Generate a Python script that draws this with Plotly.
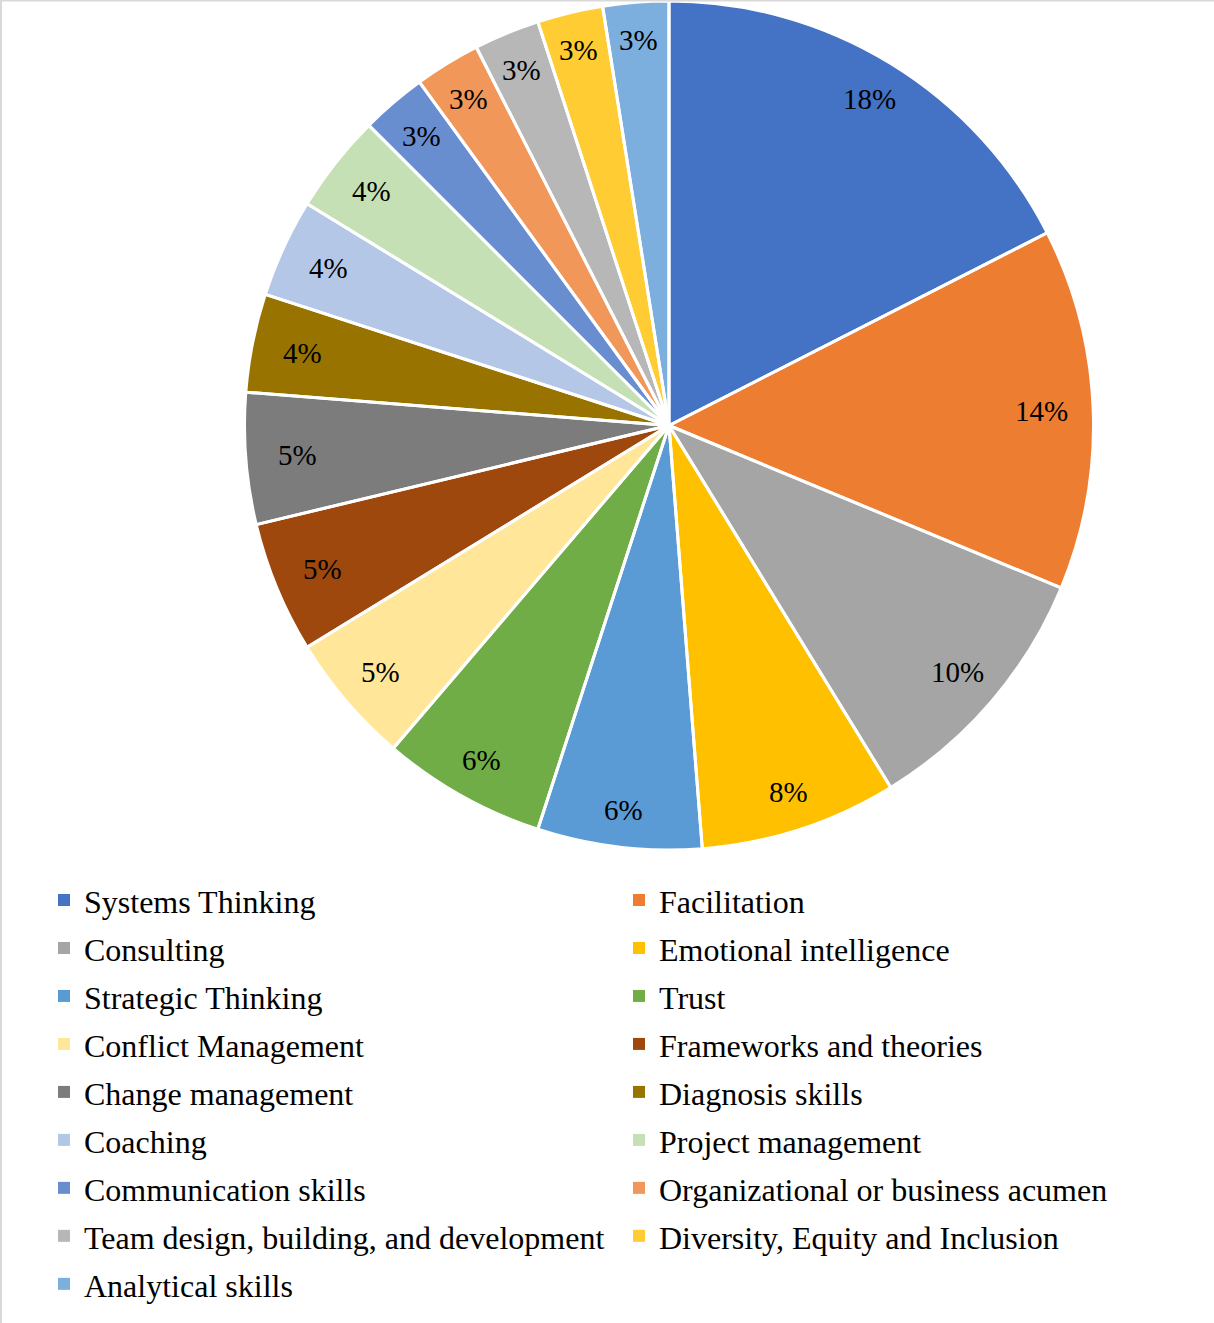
import math
import plotly.graph_objects as go

# Skill areas and number of mentions
skills = [
    "Systems Thinking", "Facilitation", "Consulting", "Emotional intelligence",
    "Strategic Thinking", "Trust", "Conflict Management", "Frameworks and theories",
    "Change management", "Diagnosis skills", "Coaching", "Project management",
    "Communication skills", "Organizational or business acumen",
    "Team design, building, and development", "Diversity, Equity and Inclusion",
    "Analytical skills",
]
mentions = [14, 11, 8, 6, 5, 5, 4, 4, 4, 3, 3, 3, 2, 2, 2, 2, 2]

colors = [
    "#4472C4", "#ED7D31", "#A5A5A5", "#FFC000", "#5B9BD5", "#70AD47",
    "#FFE699", "#9E480E", "#7C7C7C", "#997300", "#B4C7E7", "#C5E0B4",
    "#698ED0", "#F1975A", "#B7B7B7", "#FFCD33", "#7CAFDD",
]

W, H = 1214, 1323
FONT = "Liberation Serif, Times New Roman, serif"

# pie placement in pixels
cx, cy, R = 669.0, 425.5, 424.5
domain = dict(x=[(cx - R) / W, (cx + R) / W], y=[1 - (cy + R) / H, 1 - (cy - R) / H])

# legend rows use a taller line box than the text itself
legend_names = [f'<span style="font-size:32px">{s}</span>' for s in skills]

fig = go.Figure()

# filled slices (no outline, so legend swatches keep their full size)
fig.add_trace(go.Pie(
    labels=legend_names,
    values=mentions,
    sort=False,
    direction="clockwise",
    rotation=0,
    marker=dict(colors=colors, line=dict(width=0)),
    textinfo="none",
    hoverinfo="label+value+percent",
    domain=domain,
))

# white separators drawn on top of the slices
fig.add_trace(go.Pie(
    labels=legend_names,
    values=mentions,
    sort=False,
    direction="clockwise",
    rotation=0,
    marker=dict(colors=["rgba(0,0,0,0)"] * len(mentions), line=dict(color="white", width=3)),
    textinfo="none",
    hoverinfo="skip",
    showlegend=False,
    domain=domain,
))

# percentage labels near the outer rim of each slice
total = sum(mentions)
annotations = []
cum = 0
for v in mentions:
    mid = (cum + v / 2) / total * 2 * math.pi
    cum += v
    r = 380 + 7 * math.cos(2 * mid)
    px = cx + r * math.sin(mid)
    py = cy - r * math.cos(mid)
    pct = (200 * v + total) // (2 * total)  # rounded half up
    annotations.append(dict(
        x=px / W, y=1 - py / H, xref="paper", yref="paper",
        text=f"{pct}%", showarrow=False, xanchor="center", yanchor="middle",
        font=dict(family=FONT, size=29, color="black"),
    ))

fig.update_layout(
    width=W, height=H,
    margin=dict(l=0, r=0, t=0, b=0),
    paper_bgcolor="white",
    plot_bgcolor="white",
    annotations=annotations,
    showlegend=True,
    legend=dict(
        orientation="h",
        x=44 / W, xanchor="left",
        y=1 - 871 / H, yanchor="top",
        entrywidth=530, entrywidthmode="pixels",
        itemwidth=30,
        font=dict(family=FONT, size=34.6, color="black"),
        bgcolor="rgba(0,0,0,0)",
        traceorder="normal",
    ),
    shapes=[
        dict(type="line", xref="paper", yref="paper", x0=0, x1=1, y0=1, y1=1,
             line=dict(color="#D9D9D9", width=3)),
        dict(type="line", xref="paper", yref="paper", x0=0, x1=0, y0=0, y1=1,
             line=dict(color="#D9D9D9", width=4)),
    ],
)

fig.write_html("out.html")
